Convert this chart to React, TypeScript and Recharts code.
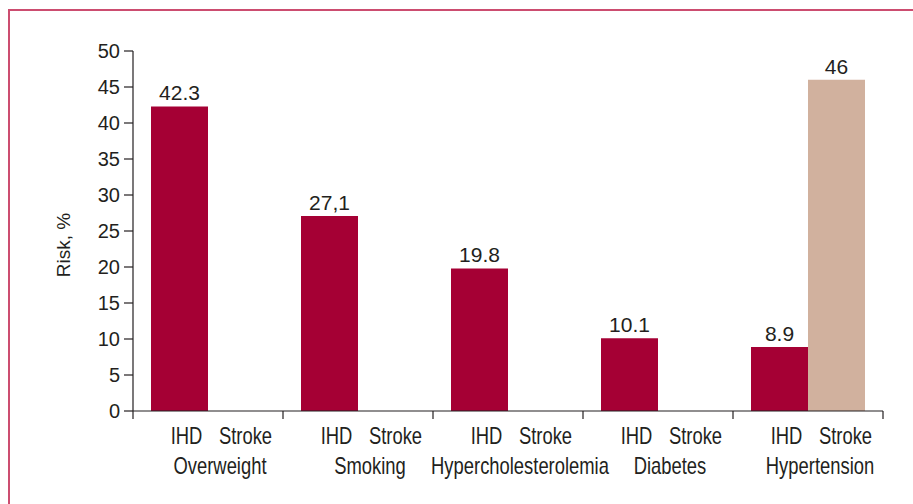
import React from 'react';
import { BarChart, Bar, XAxis, YAxis, LabelList } from 'recharts';

const categories = ['Overweight', 'Smoking', 'Hypercholesterolemia', 'Diabetes', 'Hypertension'];
const ihdValues = [42.3, 27.1, 19.8, 10.1, 8.9];
const ihdLabels = ['42.3', '27,1', '19.8', '10.1', '8.9'];
const strokeValues: (number | null)[] = [null, null, null, null, 46];
const strokeLabels = ['', '', '', '', '46'];
const yTicks = [0, 5, 10, 15, 20, 25, 30, 35, 40, 45, 50];
const seriesNames = ['IHD', 'Stroke'];

const data = categories.map((c, i) => ({
  cat: c,
  ihd: ihdValues[i],
  stroke: strokeValues[i],
  ihdLabel: ihdLabels[i],
  strokeLabel: strokeLabels[i],
}));

const W = 913;
const H = 504;
const MARGIN = { top: 51, right: 30, left: 0, bottom: 0 };
const Y_AXIS_W = 133;
const X_AXIS_H = 93;
const PLOT_W = W - MARGIN.left - MARGIN.right - Y_AXIS_W;
const PLOT_BOTTOM = H - MARGIN.bottom - X_AXIS_H;
const BAND = PLOT_W / categories.length;
const CAT_GAP = 18;
const BAR_W = (BAND - 2 * CAT_GAP) / 2;

const TEXT = '#231f20';
const NUM_FONT = '"Liberation Sans", Arial, sans-serif';
const CAT_FONT = '"Liberation Sans", Arial, sans-serif';
const SQUEEZE = 0.8;

const CondText = ({ x, y, children }: { x: number; y: number; children: React.ReactNode }) => (
  <text
    transform={`translate(${x} ${y}) scale(${SQUEEZE} 1)`}
    x={0}
    y={0}
    textAnchor="middle"
    fontFamily={CAT_FONT}
    fontSize={23}
    fill={TEXT}
  >
    {children}
  </text>
);

const XTick = (props: any) => {
  const { x, index, payload } = props;
  const left = x - BAND / 2;
  const right = x + BAND / 2;
  const ihdX = left + CAT_GAP + BAR_W / 2;
  const strokeX = left + CAT_GAP + BAR_W * 1.5;
  return (
    <g>
      {index === 0 && (
        <line x1={left} x2={left} y1={PLOT_BOTTOM} y2={PLOT_BOTTOM + 8} stroke={TEXT} strokeWidth={1.2} />
      )}
      <line x1={right} x2={right} y1={PLOT_BOTTOM} y2={PLOT_BOTTOM + 8} stroke={TEXT} strokeWidth={1.2} />
      <CondText x={ihdX + 7} y={PLOT_BOTTOM + 33}>{seriesNames[0]}</CondText>
      <CondText x={strokeX + 9} y={PLOT_BOTTOM + 33}>{seriesNames[1]}</CondText>
      <CondText x={x + 12} y={PLOT_BOTTOM + 63}>{payload.value}</CondText>
    </g>
  );
};

const YLabel = () => (
  <text
    x={63}
    y={245}
    transform="rotate(-90 63 245)"
    textAnchor="middle"
    dominantBaseline="central"
    fontFamily={NUM_FONT}
    fontSize={19}
    fill={TEXT}
  >
    Risk, %
  </text>
);

export default function App() {
  return (
    <div style={{ position: 'absolute', left: 0, top: 0, width: W, height: H, background: '#fff', overflow: 'hidden' }}>
      <div
        style={{
          position: 'absolute',
          left: 8,
          top: 9,
          width: W,
          height: H,
          borderTop: '2px solid #cc4d70',
          borderLeft: '2px solid #cc4d70',
          boxSizing: 'border-box',
        }}
      />
      <div style={{ position: 'absolute', left: 0, top: 0 }}>
        <BarChart width={W} height={H} data={data} margin={MARGIN} barCategoryGap={CAT_GAP} barGap={0}>
          <XAxis
            dataKey="cat"
            interval={0}
            tickLine={false}
            axisLine={{ stroke: TEXT, strokeWidth: 1.2 }}
            tick={<XTick />}
            height={X_AXIS_H}
          />
          <YAxis
            width={Y_AXIS_W}
            domain={[0, 50]}
            ticks={yTicks}
            interval={0}
            tickSize={9}
            tickMargin={4}
            axisLine={{ stroke: TEXT, strokeWidth: 1.2 }}
            tickLine={{ stroke: TEXT, strokeWidth: 1.2 }}
            tick={{ fill: TEXT, fontSize: 20, fontFamily: NUM_FONT }}
            label={{ content: () => <YLabel /> }}
          />
          <Bar dataKey="ihd" fill="#a50034" stroke="#3a3a3a" strokeWidth={1} isAnimationActive={false}>
            <LabelList dataKey="ihdLabel" position="top" offset={6} fill={TEXT} fontSize={21} fontFamily={NUM_FONT} />
          </Bar>
          <Bar dataKey="stroke" fill="#d1b19e" stroke="#3a3a3a" strokeWidth={1} isAnimationActive={false}>
            <LabelList dataKey="strokeLabel" position="top" offset={6} fill={TEXT} fontSize={21} fontFamily={NUM_FONT} />
          </Bar>
        </BarChart>
      </div>
    </div>
  );
}
